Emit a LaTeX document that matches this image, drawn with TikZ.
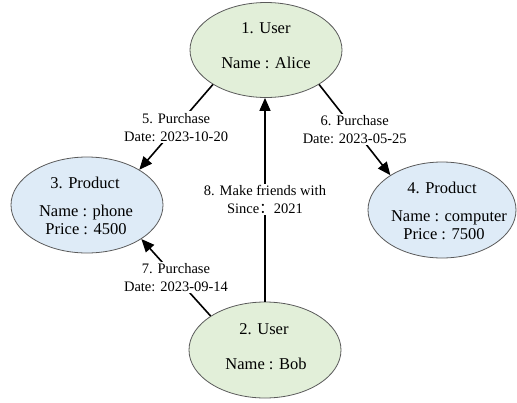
\documentclass[tikz,border=0pt]{standalone}
\usepackage{fontspec}
\setmainfont{Liberation Serif}
\newfontfamily\cjk{Noto Sans CJK SC}
\usetikzlibrary{shapes.geometric,arrows.meta}
\definecolor{usergreen}{HTML}{E2EFD9}
\definecolor{prodblue}{HTML}{DEEBF7}
\definecolor{edgegray}{HTML}{5A5A5A}
\tikzset{
  entity/.style={ellipse, draw=edgegray, line width=0.8pt, inner sep=0pt},
  userbox/.style={entity, fill=usergreen, minimum width=152pt, minimum height=95pt},
  prodbox/.style={entity, fill=prodblue, minimum width=150pt, minimum height=96pt},
  ntext/.style={anchor=base, inner sep=0pt, font=\fontsize{16.5}{19}\selectfont},
  rel/.style={line width=1.6pt, -{Triangle[length=13pt,width=11pt]}},
  rlabel/.style={midway, fill=white, align=center, inner sep=1.5pt, font=\fontsize{14.5}{18}\selectfont}
}
\begin{document}
\begin{tikzpicture}[x=1pt,y=-1pt]
\useasboundingbox (0,0) rectangle (517,402);
\node[userbox] (alice) at (266,50) {};
\node[prodbox, minimum width=152pt] (phone) at (87,205) {};
\node[prodbox, minimum width=148pt] (comp) at (442,210) {};
\node[userbox, minimum height=96pt] (bob) at (265,350) {};

\node[ntext] (a1) at (266,33) {1. User};
\node[ntext] (a2) at (266,68) {Name : Alice};
\node[ntext] (p1) at (85,188) {3. Product};
\node[ntext] (p2) at (86,216) {Name : phone};
\node[ntext] (p3) at (86,234) {Price : 4500};
\node[ntext] (c1) at (442,193) {4. Product};
\node[ntext] (c2) at (449,221) {Name : computer};
\node[ntext] (c3) at (444,239) {Price : 7500};
\node[ntext] (b1) at (264,334) {2. User};
\node[ntext] (b2) at (266,369) {Name : Bob};

\draw[rel] (alice.213) -- node[rlabel] (l5) {5. Purchase\\Date: 2023-10-20} (phone.34);
\draw[rel] (alice.327) -- node[rlabel] (l6) {6. Purchase\\Date: 2023-05-25} (comp.146);
\draw[rel] (bob.148) -- node[rlabel] (l7) {7. Purchase\\Date: 2023-09-14} (phone.328);
\draw[rel] (bob.north) -- node[rlabel] (l8) {8. Make friends with\\Since{\cjk ：}2021} (bob.north |- alice.south);
\end{tikzpicture}
\end{document}
